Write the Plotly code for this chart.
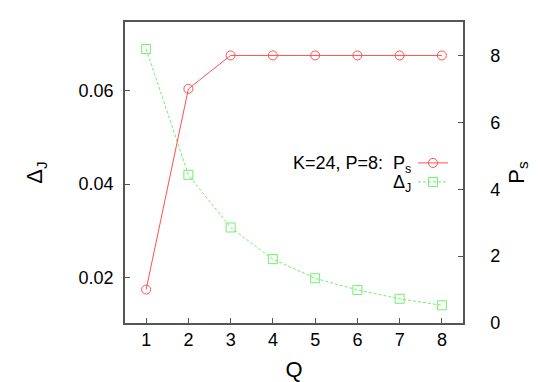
import plotly.graph_objects as go

q_values = [1, 2, 3, 4, 5, 6, 7, 8]
ps_values = [1, 7, 8, 8, 8, 8, 8, 8]
delta_j_values = [0.0690, 0.0420, 0.0307, 0.0239, 0.0198, 0.0173, 0.0154, 0.0140]

font_family = "Liberation Sans, Arial, sans-serif"
red = "rgb(255,80,80)"
green = "rgb(110,240,110)"
axis_color = "#555555"

fig = go.Figure()

fig.add_trace(
    go.Scatter(
        x=q_values,
        y=ps_values,
        name=" ",
        yaxis="y2",
        mode="lines+markers",
        line=dict(color=red, width=1),
        marker=dict(symbol="circle-open", size=9, color=red, line=dict(width=1)),
    )
)
fig.add_trace(
    go.Scatter(
        x=q_values,
        y=delta_j_values,
        name=" ",
        yaxis="y",
        mode="lines+markers",
        line=dict(color=green, width=1, dash="3px,2px"),
        marker=dict(symbol="square-open", size=9, color=green, line=dict(width=1)),
    )
)

# legend text sits to the left of the samples, like gnuplot
fig.add_annotation(
    text="K=24, P=8:  P<sub>s</sub>",
    xref="paper", yref="paper", x=0.852, y=0.525,
    xanchor="right", yanchor="middle", showarrow=False,
    font=dict(size=18, color="black"),
)
fig.add_annotation(
    text="Δ<sub>J</sub>",
    xref="paper", yref="paper", x=0.852, y=0.465,
    xanchor="right", yanchor="middle", showarrow=False,
    font=dict(size=18, color="black"),
)

# the page body has an 8px margin, so the figure is 8px smaller on each side
fig.update_layout(
    width=537,
    height=374,
    margin=dict(l=117, r=82, t=14, b=59),
    paper_bgcolor="white",
    plot_bgcolor="white",
    font=dict(family=font_family, size=18, color="black"),
    showlegend=True,
    legend=dict(
        x=0.852, y=0.58, xanchor="left", yanchor="top",
        bgcolor="rgba(0,0,0,0)", font=dict(size=7),
        itemwidth=30, tracegroupgap=0,
    ),
    xaxis=dict(
        range=[0.5, 8.5], dtick=1, showgrid=False, zeroline=False,
        showline=True, linecolor=axis_color, linewidth=1.5, mirror=True,
        ticks="inside", ticklen=5, tickcolor=axis_color,
        automargin=False,
        title=dict(text="Q", standoff=13),
    ),
    yaxis=dict(
        range=[0.0102, 0.0748], tickvals=[0.02, 0.04, 0.06], tickformat=".2f",
        showgrid=False, zeroline=False,
        showline=True, linecolor=axis_color, linewidth=1.5,
        ticks="inside", ticklen=5, tickcolor=axis_color,
        ticklabelstandoff=6, automargin=False,
        title=dict(text="Δ<sub>J</sub>", standoff=30),
    ),
    yaxis2=dict(
        range=[0, 9], dtick=2, overlaying="y", side="right",
        showgrid=False, zeroline=False,
        showline=True, linecolor=axis_color, linewidth=1.5,
        ticks="inside", ticklen=5, tickcolor=axis_color,
        ticklabelstandoff=22, automargin=False,
        title=dict(text="P<sub>s</sub>", standoff=9),
    ),
)

fig.write_html("out.html")
